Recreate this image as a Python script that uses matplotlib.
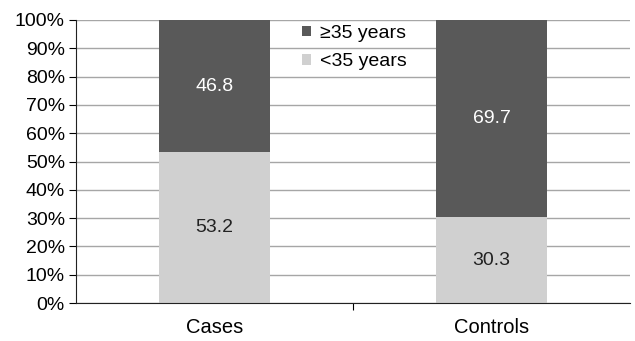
import matplotlib.pyplot as plt
import numpy as np

plt.rcParams['font.family'] = ['Liberation Sans', 'DejaVu Sans']

groups = ["Cases", "Controls"]
under_35 = [53.2, 30.3]
over_35 = [46.8, 69.7]

dark = "#595959"
light = "#d0d0d0"

fig = plt.figure(figsize=(6.35, 3.41), dpi=100)
ax = fig.add_axes([76 / 635, 1 - 303 / 341, 554 / 635, 283 / 341])

x = np.arange(len(groups))
width = 0.4
ax.bar(x, under_35, width, color=light, label="<35 years", zorder=2)
ax.bar(x, over_35, width, bottom=under_35, color=dark, label="\u226535 years", zorder=2)

for i in range(len(groups)):
    ax.text(x[i], under_35[i] / 2, f"{under_35[i]:.1f}", ha="center", va="center",
            fontsize=14, color="#222222", zorder=3)
    ax.text(x[i], under_35[i] + over_35[i] / 2, f"{over_35[i]:.1f}", ha="center", va="center",
            fontsize=14, color="white", zorder=3)

ax.set_xlim(-0.5, 1.5)
ax.set_ylim(0, 100)
ax.set_yticks(np.arange(0, 101, 10))
ax.set_yticklabels([f"{v}%" for v in range(0, 101, 10)], fontsize=14)
ax.yaxis.grid(True, color="#a6a6a6", linewidth=1, zorder=0)
ax.set_axisbelow(True)

# category labels centred, tick mark only on the boundary between groups
ax.set_xticks([0.5])
ax.set_xticklabels([""])
ax.set_xticks(x, minor=True)
ax.set_xticklabels(groups, minor=True, fontsize=14.5)
ax.tick_params(axis="x", which="minor", length=0, pad=11)
ax.tick_params(axis="x", which="major", length=5, direction="out")
ax.tick_params(axis="y", length=5, direction="out", pad=3)

for side in ("top", "right"):
    ax.spines[side].set_visible(False)
ax.spines["left"].set_color("#222222")
ax.spines["bottom"].set_color("#222222")

handles, labels = ax.get_legend_handles_labels()
ax.legend(handles[::-1], labels[::-1], loc="upper left", bbox_to_anchor=(0.377, 1.045),
          frameon=False, fontsize=14, handlelength=0.45, handleheight=0.45,
          handletextpad=0.45, labelspacing=0.6)

fig.savefig("out.png", dpi=100)
